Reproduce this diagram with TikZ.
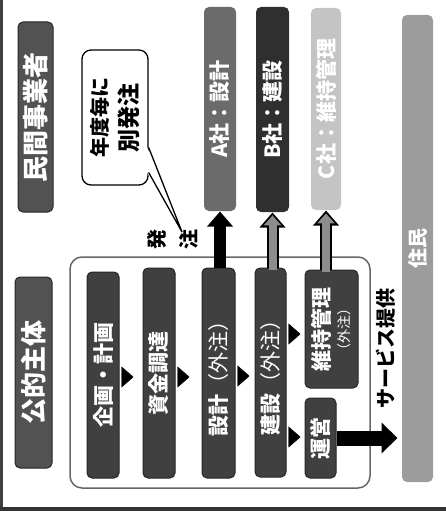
\documentclass[tikz,border=0pt]{standalone}
\usepackage{fontspec}
\setmainfont{Noto Sans CJK JP}
\usepackage{tikz}
\usetikzlibrary{arrows.meta,calc}
\definecolor{phasegray}{HTML}{404040}
\definecolor{partygray}{HTML}{525252}
\definecolor{firmA}{HTML}{6B6B6B}
\definecolor{firmB}{HTML}{2F2F2F}
\definecolor{firmC}{HTML}{C4C4C4}
\definecolor{residentgray}{HTML}{9C9C9C}
\tikzstyle{phase}=[rectangle, rounded corners=5pt, draw=black!85, line width=1pt,
  fill=phasegray, text=white, rotate=90, inner sep=0pt, align=center,
  font=\bfseries\fontsize{21}{24}\selectfont]
\tikzstyle{party}=[phase, fill=partygray, font=\bfseries\fontsize{26}{28}\selectfont]
\tikzstyle{firm}=[phase, draw=none, font=\bfseries\fontsize{21}{24}\selectfont]
\tikzstyle{flow}=[draw, line width=0.4pt, -{Triangle[length=12pt,width=21pt]}]
\tikzstyle{order}=[draw, line width=12pt, -{Triangle[length=15pt,width=25pt]}]
\tikzstyle{orderout}=[order]
\tikzstyle{orderin}=[draw=black!45, line width=8pt, shorten >=2.9pt,
  -{Triangle[length=10pt,width=17pt,color=black!45]}]
\tikzstyle{service}=[draw, line width=15pt, shorten >=4pt, -{Triangle[length=16pt,width=30pt]}]
\newcommand{\nextphase}[3][4]{
\draw[flow] ($(#2.south |- #3)+(2,#1)$) -- ++(12,0);
}

\begin{document}
\begin{tikzpicture}[x=1pt, y=-1pt]
    \useasboundingbox (0,0) rectangle (446,511);
    % page edges
    \draw[black!75, line width=2.5pt] (1.25,0) -- (1.25,511);
    \draw[black!80, line width=4pt] (0,509) -- (446,509);

    % parties
    \node (private) [party, minimum width=190pt, minimum height=35pt] at (35.5,117) {民間事業者};
    \node (public) [party, minimum width=191pt, minimum height=37pt] at (33.5,372.5) {公的主体};

    % public body frame
    \draw[black!60, line width=1.5pt, rounded corners=12pt] (70,257) rectangle (370,488);

    % phases
    \node (plan) [phase, minimum width=206pt, minimum height=32pt] at (103,375) {企画・計画};
    \node (fund) [phase, minimum width=210pt, minimum height=32pt] at (159,373) {資金調達};
    \node (design) [phase, minimum width=210pt, minimum height=33pt] at (218.5,373)
          {設計{\mdseries（外注）}};
    \node (build) [phase, minimum width=209pt, minimum height=31pt] at (270.5,372.5)
          {建設{\mdseries（外注）}};
    \node (maint) [phase, minimum width=118pt, minimum height=53pt] at (331.5,329)
          {維持管理\\[-4pt]{\mdseries\fontsize{14}{16}\selectfont（外注）}};
    \node (oper) [phase, minimum width=80pt, minimum height=31pt] at (320.5,438) {運営};

    % firms
    \node (firmA) [firm, fill=firmA, minimum width=204pt, minimum height=32pt] at (220,109) {A社：設計};
    \node (firmB) [firm, fill=firmB, minimum width=205pt, minimum height=33pt] at (272.5,109.5) {B社：建設};
    \node (firmC) [firm, fill=firmC, minimum width=202pt, minimum height=30pt] at (326,109) {C社：維持管理};

    % residents
    \node (resident) [firm, fill=residentgray, minimum width=467pt, minimum height=31pt,
          font=\bfseries\fontsize{20}{22}\selectfont] at (417.5,248.5) {住民};

    % flow between phases
    \nextphase{plan}{fund}
    \nextphase{fund}{design}
    \nextphase[3.5]{design}{build}
    \nextphase[5]{build}{maint}
    \nextphase[-1]{build}{oper}

    % orders to firms
    \draw[order] (firmA.west |- design.east) -- (firmA.west);
    \draw[orderout] (firmB.west |- build.east) -- (firmB.west);
    \draw[orderin] ($(firmB.west |- build.east)+(0,2)$) -- (firmB.west);
    \draw[orderout] (firmC.west |- maint.east) -- (firmC.west);
    \draw[orderin] ($(firmC.west |- maint.east)+(0,2)$) -- (firmC.west);
    \node (ordertext) [rotate=90, align=center, inner sep=0pt,
          font=\bfseries\fontsize{20}{31.5}\selectfont] at (173,239) {発\\注};

    % yearly order bubble
    \node (bubble) [rectangle, rounded corners=9pt, draw, line width=1.3pt, fill=white,
          rotate=90, align=center, inner sep=0pt, minimum width=135pt, minimum height=66pt,
          font=\bfseries\fontsize{20}{30}\selectfont] at (115,117.5)
          {年度毎に\\{\fontsize{23}{30}\selectfont 別発注}};
    \coordinate (tip) at (182,232);
    \fill[white] ($(bubble.south)+(-1.5,30)$) -- (tip) -- ($(bubble.south)+(-1.5,55)$) -- cycle;
    \draw[line width=1.3pt] ($(bubble.south)+(0,30)$) -- (tip) -- ($(bubble.south)+(0,55)$);

    % service to residents
    \draw[service] (oper.south) -- (resident.north |- oper.south);
    \node (servicetext) [rotate=90, inner sep=0pt, font=\bfseries\fontsize{20}{22}\selectfont]
          at (386,348) {サービス提供};
  \end{tikzpicture}
\end{document}
